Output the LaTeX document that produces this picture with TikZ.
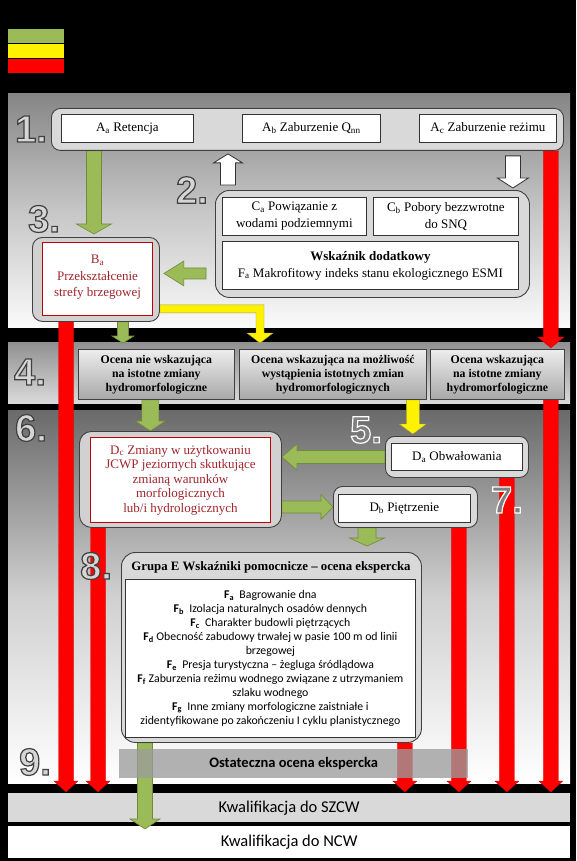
\documentclass[tikz,border=0pt]{standalone}
\usepackage{fontspec}
\setmainfont{Liberation Serif}
\newfontfamily\calib{Carlito}
\newfontfamily\numfont{Liberation Sans}
\usetikzlibrary{calc}
\pgfdeclarelayer{bg}\pgfdeclarelayer{arr}\pgfsetlayers{bg,arr,main}
\definecolor{agreen}{HTML}{9BBB59}
\definecolor{agreendark}{HTML}{6F8A3A}
\definecolor{boxred}{HTML}{C00000}
\definecolor{textred}{HTML}{A0252B}
\definecolor{grpfill}{HTML}{D9D9D9}
\definecolor{p1top}{HTML}{868686}
\definecolor{p1mid}{HTML}{C6C6C6}
\definecolor{p4top}{HTML}{909090}
\definecolor{p4bot}{HTML}{DADADA}
\definecolor{p6top}{HTML}{6A6A6A}
\definecolor{p6mid}{HTML}{D0D0D0}
\definecolor{szgray}{HTML}{D9D9D9}
\definecolor{osgray}{HTML}{9C9C9C}
\definecolor{numlight}{HTML}{D6D6D6}
\definecolor{numgray}{HTML}{808080}
\newcommand\fs[2]{\fontsize{#1}{#2}\selectfont}
\newcommand\numtxt[2]{\special{pdf:literal direct 2 Tr 1.2 w #1 RG}#2\special{pdf:literal direct 0 Tr}}
% block arrows: start, end, shaft width, head width, head length, style
\newcommand\ArDown[6]{\path[#6] let \p1=(#1),\p2=(#2) in
  (\x1-#3/2,\y1) -- (\x1-#3/2,\y2+#5) -- (\x1-#4/2,\y2+#5) -- (\x1,\y2) --
  (\x1+#4/2,\y2+#5) -- (\x1+#3/2,\y2+#5) -- (\x1+#3/2,\y1) -- cycle;}
\newcommand\ArUp[6]{\path[#6] let \p1=(#1),\p2=(#2) in
  (\x1-#3/2,\y1) -- (\x1-#3/2,\y2-#5) -- (\x1-#4/2,\y2-#5) -- (\x1,\y2) --
  (\x1+#4/2,\y2-#5) -- (\x1+#3/2,\y2-#5) -- (\x1+#3/2,\y1) -- cycle;}
\newcommand\ArLeft[6]{\path[#6] let \p1=(#1),\p2=(#2) in
  (\x1,\y1+#3/2) -- (\x2+#5,\y1+#3/2) -- (\x2+#5,\y1+#4/2) -- (\x2,\y1) --
  (\x2+#5,\y1-#4/2) -- (\x2+#5,\y1-#3/2) -- (\x1,\y1-#3/2) -- cycle;}
\newcommand\ArRight[6]{\path[#6] let \p1=(#1),\p2=(#2) in
  (\x1,\y1+#3/2) -- (\x2-#5,\y1+#3/2) -- (\x2-#5,\y1+#4/2) -- (\x2,\y1) --
  (\x2-#5,\y1-#4/2) -- (\x2-#5,\y1-#3/2) -- (\x1,\y1-#3/2) -- cycle;}
\tikzset{
  grp/.style={draw=black!75, fill=grpfill, line width=0.9pt, rounded corners=#1,
    anchor=north west, inner sep=0pt},
  grp/.default=9pt,
  wbox/.style={draw=black!80, fill=white, line width=0.8pt, anchor=north west,
    align=center, inner sep=1pt, font=\fs{13}{17}},
  rbox/.style={draw=boxred, fill=white, line width=1pt, anchor=north west,
    align=center, inner sep=1pt, text=textred},
  obox/.style={draw=black!75, top color=white!93!black, bottom color=white!66!black,
    line width=0.8pt, anchor=north west, align=center, inner sep=1pt,
    font=\bfseries\fs{11.8}{14}},
  band/.style={anchor=north west, minimum width=562pt, inner sep=0pt,
    font=\calib\fs{16.5}{18}},
  num/.style={font=\numfont\bfseries\fs{38}{38}, text=numlight, inner sep=0pt},
  numg/.style={font=\numfont\bfseries\fs{38}{38}, text=numgray, inner sep=0pt},
  garr/.style={fill=agreen, draw=agreendark, line width=0.6pt},
  rarr/.style={fill=red, draw=red!85!black, line width=0.3pt},
  warr/.style={fill=white, draw=black!80, line width=0.8pt},
  yarr/.style={fill=yellow, draw=yellow!60!black, line width=0.4pt},
}
\begin{document}
\begin{tikzpicture}[x=1pt,y=-1pt]
\useasboundingbox (0,0) rectangle (576,861);
\begin{pgfonlayer}{bg}
\fill[black] (0,0) rectangle (576,861);
% legend
\fill[agreen] (8,29) rectangle (64,43);
\fill[yellow] (8,43) rectangle (64,58);
\fill[red] (8,58) rectangle (64,73);
\draw[black, line width=0.8pt] (8,43) -- (64,43) (8,58) -- (64,58);
% panels
\shade[top color=p1top, bottom color=white!98!black, middle color=p1mid] (8,94) rectangle (570,327);
\shade[top color=p4top, bottom color=p4bot] (8,342) rectangle (570,403);
\shade[top color=p6top, bottom color=white, middle color=p6mid] (8,410) rectangle (570,783);
\node[band, fill=szgray, minimum height=29pt] (SZ) at (8,793) {Kwalifikacja do SZCW};
\node[band, fill=white, minimum height=32pt] (NC) at (8,826) {Kwalifikacja do NCW};
\end{pgfonlayer}

% step 1
\node[grp, minimum width=512pt, minimum height=42pt] (Ag) at (51,108) {};
\node[wbox, minimum width=132pt, minimum height=28pt] (Aa) at (61,114) {A\textsubscript{a} Retencja};
\node[wbox, minimum width=138pt, minimum height=28pt] (Ab) at (242,114) {A\textsubscript{b} Zaburzenie Q\textsubscript{nn}};
\node[wbox, minimum width=137pt, minimum height=28pt] (Ac) at (419,114) {A\textsubscript{c} Zaburzenie reżimu};
% step 2
\node[grp=14pt, minimum width=314pt, minimum height=107pt] (Cg) at (215,190) {};
\node[wbox, minimum width=144pt, minimum height=38pt] (Ca) at (222,197) {C\textsubscript{a} Powiązanie z\\wodami podziemnymi};
\node[wbox, minimum width=145pt, minimum height=38pt] (Cb) at (373,197) {C\textsubscript{b} Pobory bezzwrotne\\do SNQ};
\node[wbox, minimum width=296pt, minimum height=48pt] (Fa) at (222,241) {\textbf{Wskaźnik dodatkowy}\\F\textsubscript{a} Makrofitowy indeks stanu ekologicznego ESMI};
% step 3
\node[grp=10pt, fill=white!82!black, minimum width=127pt, minimum height=84pt] (Bg) at (32,237) {};
\node[rbox, minimum width=110pt, minimum height=73pt, font=\fs{13}{16.5}] (Ba) at (42,242) {B\textsubscript{a}\\Przekształcenie\\strefy brzegowej\\[-10pt]\mbox{}};
% step 4
\node[obox, minimum width=156pt, minimum height=50pt] (Ob1) at (78,349) {Ocena nie wskazująca\\na istotne zmiany\\hydromorfologiczne};
\node[obox, minimum width=187pt, minimum height=50pt] (Ob2) at (239,349) {Ocena wskazująca na możliwość\\wystąpienia istotnych zmian\\hydromorfologicznych};
\node[obox, minimum width=134pt, minimum height=50pt] (Ob3) at (430,349) {Ocena wskazująca\\na istotne zmiany\\hydromorfologiczne};
% steps 5-7
\node[grp=12pt, fill=white!82!black, minimum width=202pt, minimum height=96pt] (Dg) at (79,431) {};
\node[rbox, minimum width=180pt, minimum height=85pt, font=\fs{13}{14.5}] (Dc) at (90,437) {D\textsubscript{c} Zmiany w użytkowaniu\\JCWP jeziornych skutkujące\\zmianą warunków\\morfologicznych\\lub/i hydrologicznych};
\node[grp, minimum width=143pt, minimum height=41pt] (Dag) at (385,436) {};
\node[wbox, minimum width=131pt, minimum height=27pt] (Da) at (391,443) {D\textsubscript{a} Obwałowania};
\node[grp, minimum width=144pt, minimum height=41pt] (Dbg) at (333,486) {};
\node[wbox, minimum width=132pt, minimum height=28pt] (Db) at (338,494) {D\textsubscript{b} Piętrzenie};
% step 8
\node[grp=14pt, minimum width=300pt, minimum height=190pt] (Eg) at (121,552) {};
\node[font=\bfseries\fs{12.8}{15}, inner sep=0pt] (Eh) at (271,567) {Grupa E Wskaźniki pomocnicze – ocena ekspercka};
\node[wbox, minimum width=290pt, minimum height=158pt, font=\calib\fs{11.8}{13.9}] (E) at (125,579) {%
\textbf{F\textsubscript{a}}~ Bagrowanie dna\\
\textbf{F\textsubscript{b}}~ Izolacja naturalnych osadów dennych\\
\textbf{F\textsubscript{c}}~ Charakter budowli piętrzących\\
\textbf{F\textsubscript{d}} Obecność zabudowy trwałej w pasie 100 m od linii\\
brzegowej\\
\textbf{F\textsubscript{e}}~ Presja turystyczna – żegluga śródlądowa\\
\textbf{F\textsubscript{f}} Zaburzenia reżimu wodnego związane z utrzymaniem\\
szlaku wodnego\\
\textbf{F\textsubscript{g}}~ Inne zmiany morfologiczne zaistniałe i\\
zidentyfikowane po zakończeniu I cyklu planistycznego};

% arrows
\begin{pgfonlayer}{arr}
\ArDown{$(Bg.north |- Ag.south)+(-2,0)$}{$(Bg.north)+(0,-3)$}{15pt}{35pt}{10pt}{garr}
\ArUp{$(Cg.north west)+(13,-5)$}{$(Ag.south)+(0,3)$}{15pt}{29pt}{9pt}{warr}
\ArDown{$(Ag.south east)+(-51,5)$}{$(Cg.north)+(0,-2)$}{15pt}{31pt}{10pt}{warr}
\ArLeft{$(Cg.west |- Bg.east)+(-9,-6)$}{$(Bg.east)+(4,0)$}{11pt}{25pt}{20pt}{garr}
\path[yarr] let \p1=($(Bg.south east)+(0,-13)$), \p2=($(Ob2.north west)+(21,-6)$) in
  (\x1,\y1+4pt) -- (\x2+4pt,\y1+4pt) -- (\x2+4pt,\y2+10pt) -- (\x2+13pt,\y2+10pt) --
  (\x2,\y2) -- (\x2-13pt,\y2+10pt) -- (\x2-4pt,\y2+10pt) -- (\x2-4pt,\y1-4pt) --
  (\x1,\y1-4pt) -- cycle;
\ArDown{$(Bg.south)+(27,0)$}{$(Ob1.north)+(0,-6)$}{11pt}{22pt}{7pt}{garr}
\ArDown{$(Ag.south east)+(-13,0)$}{$(Ob3.north)+(0,-1)$}{15pt}{26pt}{11pt}{rarr}
\ArDown{$(Ob3.south east)+(-14,0)$}{$(SZ.north)+(0,-1)$}{15pt}{24pt}{11pt}{rarr}
\ArDown{$(Bg.south west)+(34,0)$}{$(SZ.north)+(0,-1)$}{15pt}{24pt}{11pt}{rarr}
\ArDown{$(Ob1.south)+(-6,0)$}{Dg.north}{17pt}{30pt}{10pt}{garr}
\ArDown{$(Ob2.south east)+(-14,0)$}{$(Dag.north)+(0,-2)$}{13pt}{27pt}{10pt}{yarr}
\ArLeft{Dag.west}{Dg.east}{13pt}{26pt}{15pt}{garr}
\ArRight{Dg.east |- Dbg.west}{Dbg.west}{12pt}{25pt}{12pt}{garr}
\ArDown{$(Dbg.south west)+(34,0)$}{$(Eg.north)+(0,-6)$}{18pt}{35pt}{8pt}{garr}
\ArDown{$(Dag.south east)+(-22,0)$}{$(SZ.north)+(0,-1)$}{15pt}{24pt}{11pt}{rarr}
\ArDown{$(Dbg.south east)+(-19,0)$}{$(SZ.north)+(0,-1)$}{15pt}{24pt}{11pt}{rarr}
\ArDown{$(Dg.south west)+(19,0)$}{$(SZ.north)+(0,-1)$}{15pt}{24pt}{11pt}{rarr}
\ArDown{$(Eg.south east)+(-17,0)$}{$(SZ.north)+(0,-1)$}{15pt}{24pt}{11pt}{rarr}
\ArDown{$(Eg.south west)+(24,0)$}{$(NC.north)+(0,3)$}{15pt}{30pt}{10pt}{garr}
\end{pgfonlayer}

% step 9 band
\node[fill=osgray, fill opacity=0.77, text opacity=1, anchor=north west, inner sep=0pt,
  minimum width=349pt, minimum height=29pt, font=\calib\bfseries\fs{14.5}{16}] (Os) at (119,749) {Ostateczna ocena ekspercka};

% step numbers
\node[num] (n1) at (31,129) {\numtxt{0.25 0.25 0.25}{1.}};
\node[num] (n2) at (192,190) {\numtxt{0.25 0.25 0.25}{2.}};
\node[num] (n3) at (44,219) {\numtxt{0.25 0.25 0.25}{3.}};
\node[num] (n4) at (30,372) {\numtxt{0.25 0.25 0.25}{4.}};
\node[numg] (n5) at (366,430) {\numtxt{1 1 1}{5.}};
\node[num] (n6) at (31,428) {\numtxt{0.25 0.25 0.25}{6.}};
\node[numg] (n7) at (507,500) {\numtxt{1 1 1}{7.}};
\node[num] (n8) at (96,566) {\numtxt{0.25 0.25 0.25}{8.}};
\node[num] (n9) at (35,762) {\numtxt{0.25 0.25 0.25}{9.}};
\end{tikzpicture}
\end{document}
